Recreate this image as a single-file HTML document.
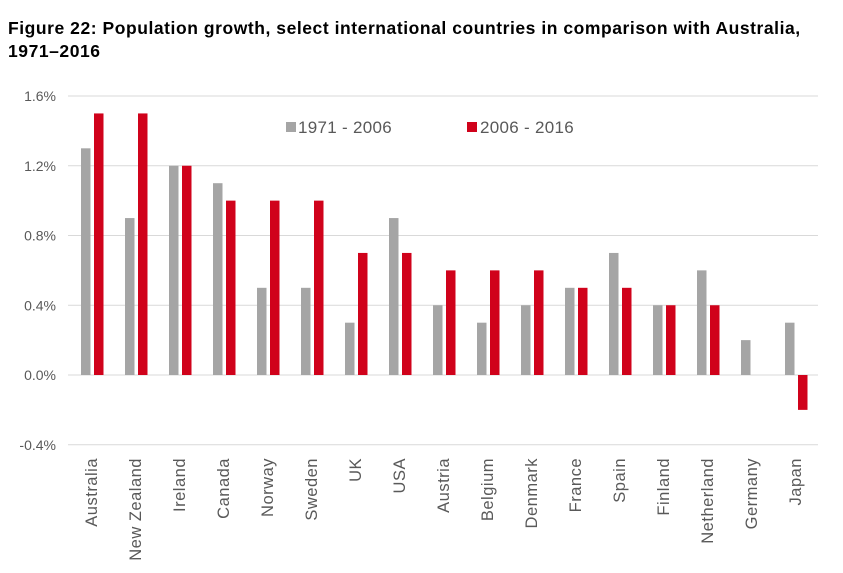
<!DOCTYPE html>
<html><head><meta charset="utf-8"><style>
body{margin:0;background:#fff;width:843px;height:573px;overflow:hidden;font-family:"Liberation Sans",sans-serif}
#title{position:absolute;left:8px;top:17px;font-weight:bold;font-size:17.5px;letter-spacing:0.55px;line-height:23px;color:#000;white-space:nowrap}
</style></head><body>
<div id="title">Figure 22: Population growth, select international countries in comparison with Australia,<br>1971–2016</div>
<svg id="chart" width="843" height="573" style="position:absolute;left:0;top:0"></svg>
<script>
const categories=["Australia","New Zealand","Ireland","Canada","Norway","Sweden","UK","USA","Austria","Belgium","Denmark","France","Spain","Finland","Netherland","Germany","Japan"];
const series1=[1.3,0.9,1.2,1.1,0.5,0.5,0.3,0.9,0.4,0.3,0.4,0.5,0.7,0.4,0.6,0.2,0.3];
const series2=[1.5,1.5,1.2,1.0,1.0,1.0,0.7,0.7,0.6,0.6,0.6,0.5,0.5,0.4,0.4,null,-0.2];
const yTicks=[-0.4,0,0.4,0.8,1.2,1.6];
const seriesNames=["1971 - 2006","2006 - 2016"];
const NS="http://www.w3.org/2000/svg";
const svg=document.getElementById('chart');
const y=v=>375-(v/0.4)*69.75;
const xc=i=>91+i*44;
function mk(t,a){const e=document.createElementNS(NS,t);for(const k in a)e.setAttribute(k,a[k]);svg.appendChild(e);return e;}
yTicks.forEach(v=>{
 const g=mk('line',{x1:68,x2:818,y1:y(v),y2:y(v),stroke:'#d9d9d9','stroke-width':1});
 
 
 const t=mk('text',{x:56,y:y(v)+5,'text-anchor':'end','font-size':14,fill:'#595959'});
 t.textContent=v.toFixed(1)+'%';
 
 
});
categories.forEach((c,i)=>{
 const v1=series1[i];
 if(v1!=null){const r=mk('rect',{x:xc(i)-10,y:Math.min(y(v1),y(0)),width:9.5,height:Math.abs(y(v1)-y(0)),fill:'#a5a5a5'});
 
 }
 const v2=series2[i];
 if(v2!=null){const r=mk('rect',{x:xc(i)+3,y:Math.min(y(v2),y(0)),width:9.5,height:Math.abs(y(v2)-y(0)),fill:'#d0021b'});
 
 }
 const t=mk('text',{x:0,y:0,'text-anchor':'end','font-size':16.5,'letter-spacing':0.5,fill:'#595959',transform:`translate(${xc(i)+6},458) rotate(-90)`});
 t.textContent=c;
 
 
});
[[286,'#a5a5a5',298],[467,'#d0021b',480]].forEach((l,k)=>{
 const r=mk('rect',{x:l[0],y:122,width:10,height:10,fill:l[1]});
 
 
 const t=mk('text',{x:l[2],y:133,'font-size':17,'letter-spacing':0.3,fill:'#595959'});
 t.textContent=seriesNames[k];
 
 
});
</script>
</body></html>
